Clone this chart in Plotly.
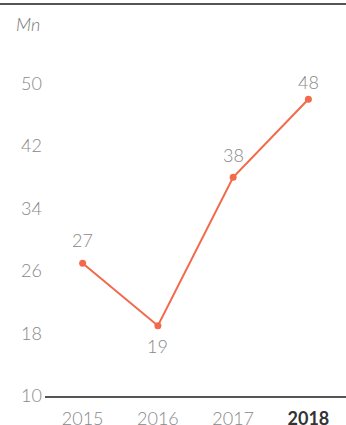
import plotly.graph_objects as go

years = ["2015", "2016", "2017", "2018"]
values = [27, 19, 38, 48]
label_shift = [23, -20, 22, 17]   # vertical offset of each value label, px
y_ticks = [10, 18, 26, 34, 42, 50]

line_color = "#f26a4b"
label_gray = "#888888"
base_font = dict(family="Lato", size=18, color=label_gray, weight=300)

tick_text = [
    f"<span style='color:#333333;font-weight:bold'>{y}</span>" if y == "2018" else y
    for y in years
]

fig = go.Figure()
fig.add_trace(go.Scatter(
    x=years,
    y=values,
    mode="lines+markers",
    line=dict(color=line_color, width=2),
    marker=dict(color=line_color, size=7),
    cliponaxis=False,
    hoverinfo="skip",
))

# value labels; on a category axis annotations take the category index
annotations = [
    dict(x=i, y=v, text=str(v), showarrow=False, yshift=s,
         xanchor="center", yanchor="middle", font=dict(base_font))
    for i, (v, s) in enumerate(zip(values, label_shift))
]
annotations.append(dict(
    text="Mn", xref="paper", yref="paper",
    x=-45 / 301 + 14 / 301, y=1 - 20 / 392,
    xanchor="left", yanchor="middle", showarrow=False,
    font=dict(family="Lato", size=18, color="#777777", style="italic", weight=300),
))

fig.update_layout(
    width=346,
    height=425,
    margin=dict(l=45, r=0, t=4, b=29),
    paper_bgcolor="white",
    plot_bgcolor="white",
    showlegend=False,
    font=base_font,
    xaxis=dict(
        type="category",
        range=[-0.5, 3.5],
        tickvals=years,
        ticktext=tick_text,
        showgrid=False,
        zeroline=False,
        showline=True,
        linecolor="#555555",
        linewidth=1.5,
        ticks="",
        ticklabelstandoff=6,
        tickfont=base_font,
        automargin=False,
    ),
    yaxis=dict(
        range=[10, 60.2],
        tickvals=y_ticks,
        showgrid=False,
        zeroline=False,
        showline=False,
        ticks="",
        ticklabelstandoff=2,
        tickfont=base_font,
        automargin=False,
    ),
    shapes=[dict(
        type="line", xref="paper", yref="paper",
        x0=-0.2, x1=1.0, y0=1.0, y1=1.0,
        line=dict(color="#555555", width=2),
    )],
    annotations=annotations,
)

fig.write_html("out.html")
